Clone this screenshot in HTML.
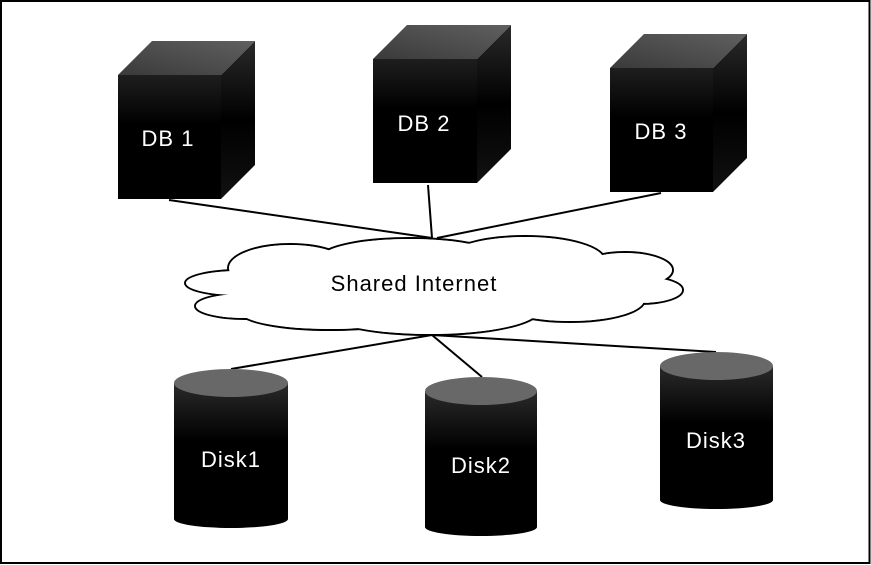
<!DOCTYPE html>
<html><head><style>html,body{margin:0;padding:0;background:#fff;}svg{display:block;}</style></head>
<body>
<svg width="871" height="565" viewBox="0 0 871 565" xmlns="http://www.w3.org/2000/svg" font-family="'Liberation Sans', sans-serif">
<defs>
<linearGradient id="front" x1="0" y1="0" x2="0" y2="1"><stop offset="0" stop-color="#1e1e1e"/><stop offset="0.4" stop-color="#000"/><stop offset="1" stop-color="#000"/></linearGradient>
<linearGradient id="side" x1="0" y1="0" x2="0" y2="1"><stop offset="0" stop-color="#2a2a2a"/><stop offset="0.5" stop-color="#000"/><stop offset="1" stop-color="#111"/></linearGradient>
<linearGradient id="top" x1="0" y1="1" x2="1" y2="0"><stop offset="0" stop-color="#3a3a3a"/><stop offset="1" stop-color="#606060"/></linearGradient>
<linearGradient id="cyl" x1="0" y1="0" x2="0" y2="1"><stop offset="0" stop-color="#2a2a2a"/><stop offset="0.4" stop-color="#000"/><stop offset="1" stop-color="#000"/></linearGradient>
</defs>
<rect x="1" y="1" width="868.5" height="562" fill="#fff" stroke="#000" stroke-width="2"/>

<g stroke="#000" stroke-width="2">
<line x1="169" y1="200" x2="432" y2="238"/>
<line x1="428" y1="185" x2="432" y2="238"/>
<line x1="661" y1="193" x2="437" y2="238"/>
<line x1="432" y1="335" x2="231" y2="369"/>
<line x1="432" y1="335" x2="482" y2="377"/>
<line x1="432" y1="335" x2="716" y2="352"/>
</g>

<g stroke="#000" stroke-width="2" fill="#fff">
<ellipse cx="290" cy="268" rx="62" ry="24"/>
<ellipse cx="240" cy="283" rx="55" ry="13"/>
<ellipse cx="245" cy="306" rx="50" ry="13"/>
<ellipse cx="330" cy="312" rx="90" ry="18"/>
<ellipse cx="430" cy="310" rx="110" ry="25"/>
<ellipse cx="410" cy="258" rx="90" ry="20"/>
<ellipse cx="525" cy="260" rx="80" ry="24"/>
<ellipse cx="625" cy="270" rx="48" ry="18"/>
<ellipse cx="640" cy="290" rx="43" ry="14"/>
<ellipse cx="570" cy="300" rx="75" ry="22"/>
</g>
<g fill="#fff">
<ellipse cx="290" cy="268" rx="61" ry="23"/>
<ellipse cx="240" cy="283" rx="54" ry="12"/>
<ellipse cx="245" cy="306" rx="49" ry="12"/>
<ellipse cx="330" cy="312" rx="89" ry="17"/>
<ellipse cx="430" cy="310" rx="109" ry="24"/>
<ellipse cx="410" cy="258" rx="89" ry="19"/>
<ellipse cx="525" cy="260" rx="79" ry="23"/>
<ellipse cx="625" cy="270" rx="47" ry="17"/>
<ellipse cx="640" cy="290" rx="42" ry="13"/>
<ellipse cx="570" cy="300" rx="74" ry="21"/>
<ellipse cx="430" cy="287" rx="200" ry="30"/>
</g>
<text x="414" y="291" font-size="22" letter-spacing="1" text-anchor="middle" fill="#000">Shared Internet</text>

<g font-size="22" letter-spacing="1">
<polygon points="118,75 152,41 255,41 221,75" fill="url(#top)"/>
<polygon points="221,75 255,41 255,165 221,199" fill="url(#side)"/>
<rect x="118" y="75" width="103" height="124" fill="url(#front)"/>
<text x="168" y="146" text-anchor="middle" fill="#fff">DB 1</text>

<polygon points="373,59 407,25 511,25 477,59" fill="url(#top)"/>
<polygon points="477,59 511,25 511,149 477,183" fill="url(#side)"/>
<rect x="373" y="59" width="104" height="124" fill="url(#front)"/>
<text x="424" y="131" text-anchor="middle" fill="#fff">DB 2</text>

<polygon points="610,68 644,34 747,34 713,68" fill="url(#top)"/>
<polygon points="713,68 747,34 747,158 713,192" fill="url(#side)"/>
<rect x="610" y="68" width="103" height="124" fill="url(#front)"/>
<text x="661" y="139" text-anchor="middle" fill="#fff">DB 3</text>

<path d="M174,383 L174,519 A57,9 0 0 0 288,519 L288,383 Z" fill="url(#cyl)"/>
<ellipse cx="231" cy="383" rx="57" ry="14" fill="#686868"/>
<text x="231" y="467" text-anchor="middle" fill="#fff">Disk1</text>

<path d="M425,391 L425,527 A56,9 0 0 0 537,527 L537,391 Z" fill="url(#cyl)"/>
<ellipse cx="481" cy="391" rx="56" ry="14" fill="#686868"/>
<text x="481" y="473" text-anchor="middle" fill="#fff">Disk2</text>

<path d="M660,366 L660,500 A56.5,9 0 0 0 773,500 L773,366 Z" fill="url(#cyl)"/>
<ellipse cx="716.5" cy="366" rx="56.5" ry="14" fill="#686868"/>
<text x="716" y="448" text-anchor="middle" fill="#fff">Disk3</text>
</g>
</svg>
</body></html>
